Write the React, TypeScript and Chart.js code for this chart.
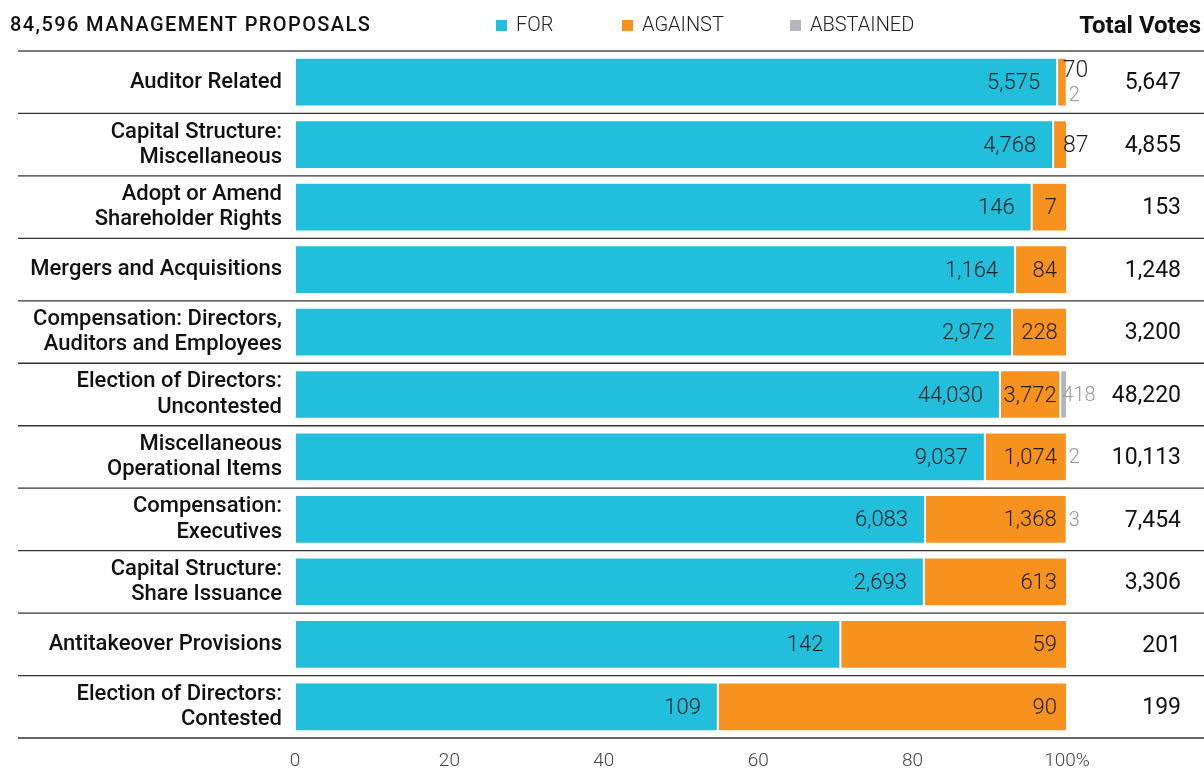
import { useEffect, useRef } from "react";
import { Chart, registerables } from "chart.js";

Chart.register(...registerables);

const categories: string[][] = [
  ["Auditor Related"],
  ["Capital Structure:", "Miscellaneous"],
  ["Adopt or Amend", "Shareholder Rights"],
  ["Mergers and Acquisitions"],
  ["Compensation: Directors,", "Auditors and Employees"],
  ["Election of Directors:", "Uncontested"],
  ["Miscellaneous", "Operational Items"],
  ["Compensation:", "Executives"],
  ["Capital Structure:", "Share Issuance"],
  ["Antitakeover Provisions"],
  ["Election of Directors:", "Contested"],
];
const forVotes = [5575, 4768, 146, 1164, 2972, 44030, 9037, 6083, 2693, 142, 109];
const againstVotes = [70, 87, 7, 84, 228, 3772, 1074, 1368, 613, 59, 90];
const abstainedVotes = [2, 0, 0, 0, 0, 418, 2, 3, 0, 0, 0];
const totalVotes = [5647, 4855, 153, 1248, 3200, 48220, 10113, 7454, 3306, 201, 199];
const xTicks = [0, 20, 40, 60, 80, 100];
const seriesNames = ["FOR", "AGAINST", "ABSTAINED"];
const seriesColors = ["#21BFDB", "#F7921F", "#B4B6BB"];
const titleText = "84,596 MANAGEMENT PROPOSALS";
const totalHeader = "Total Votes";

const FONT = "Roboto, 'Liberation Sans', Arial, sans-serif";
const fmt = (n: number) => n.toLocaleString("en-US");

export default function App() {
  const ref = useRef<HTMLCanvasElement | null>(null);

  useEffect(() => {
    const canvas = ref.current;
    if (!canvas) return;
    const pct = (arr: number[]) => arr.map((v, i) => (v / totalVotes[i]) * 100);
    const seriesValues = [forVotes, againstVotes, abstainedVotes];

    const separators = {
      id: "separators",
      beforeDatasetsDraw(chart: any) {
        const { ctx, chartArea } = chart;
        const y = chart.scales.y;
        const n = categories.length;
        const lines: number[] = [chartArea.top];
        for (let i = 0; i < n - 1; i++) {
          lines.push((y.getPixelForValue(i) + y.getPixelForValue(i + 1)) / 2);
        }
        lines.push(chartArea.bottom);
        ctx.save();
        lines.forEach((ly, idx) => {
          ctx.beginPath();
          if (idx === 0) {
            ctx.strokeStyle = "#7a7a7a";
            ctx.lineWidth = 2;
          } else {
            ctx.strokeStyle = "#333";
            ctx.lineWidth = 1.3;
          }
          ctx.moveTo(18, ly);
          ctx.lineTo(chart.width, ly);
          ctx.stroke();
        });
        ctx.restore();
      },
    };

    const valueLabels = {
      id: "valueLabels",
      afterDatasetsDraw(chart: any) {
        const { ctx } = chart;
        const m0 = chart.getDatasetMeta(0).data;
        const m1 = chart.getDatasetMeta(1).data;
        const m2 = chart.getDatasetMeta(2).data;
        const yScale = chart.scales.y;
        ctx.save();
        ctx.textBaseline = "middle";
        for (let i = 0; i < categories.length; i++) {
          const cy = yScale.getPixelForValue(i) + 1.5;
          // FOR
          ctx.font = `300 22px ${FONT}`;
          ctx.fillStyle = "#1e1e1e";
          ctx.textAlign = "right";
          ctx.fillText(fmt(forVotes[i]), m0[i].x - 17, cy);
          // AGAINST
          const a = m1[i];
          const aText = fmt(againstVotes[i]);
          const w = a.x - a.base;
          const tw = ctx.measureText(aText).width;
          const hasAbst = abstainedVotes[i] > 0;
          let bothOutside = false;
          if (w >= tw + 6) {
            const pad = Math.min(10, (w - tw) / 2);
            ctx.textAlign = "right";
            ctx.fillText(aText, a.x - pad, cy);
          } else {
            bothOutside = hasAbst;
            ctx.font = `300 23px ${FONT}`;
            ctx.textAlign = "left";
            ctx.fillText(aText, a.x - 4, bothOutside ? cy - 12 : cy);
          }
          // ABSTAINED
          if (hasAbst) {
            const b = m2[i];
            ctx.font = `300 20px ${FONT}`;
            ctx.fillStyle = "#9a9a9a";
            ctx.textAlign = "left";
            ctx.fillText(fmt(abstainedVotes[i]), b.base + 2, bothOutside ? cy + 12 : cy);
          }
          // TOTAL
          ctx.font = `400 23px ${FONT}`;
          ctx.fillStyle = "#111";
          ctx.textAlign = "right";
          ctx.fillText(fmt(totalVotes[i]), 1181, cy);
        }
        ctx.restore();
      },
    };

    const header = {
      id: "header",
      afterDraw(chart: any) {
        const { ctx } = chart;
        ctx.save();
        ctx.textBaseline = "middle";
        ctx.fillStyle = "#111";
        ctx.textAlign = "left";
        ctx.font = `500 20px ${FONT}`;
        try { (ctx as any).letterSpacing = "1.4px"; } catch (e) {}
        ctx.fillText(titleText, 10, 26);
        try { (ctx as any).letterSpacing = "0px"; } catch (e) {}
        const legendX = [496, 622, 790];
        seriesNames.forEach((name, k) => {
          ctx.fillStyle = seriesColors[k];
          ctx.fillRect(legendX[k], 20, 11, 11);
          ctx.fillStyle = "#222";
          ctx.font = `300 20px ${FONT}`;
          ctx.fillText(name, legendX[k] + 20, 26);
        });
        ctx.font = `700 24px ${FONT}`;
        ctx.fillStyle = "#111";
        ctx.textAlign = "right";
        ctx.fillText(totalHeader, 1201, 27);
        ctx.restore();
      },
    };

    const chart = new Chart(canvas, {
      type: "bar",
      data: {
        labels: categories,
        datasets: seriesNames.map((name, k) => ({
          label: name,
          data: pct(seriesValues[k]),
          backgroundColor: seriesColors[k],
          borderColor: "#ffffff",
          borderWidth: 1,
          borderSkipped: false,
          barPercentage: 0.78,
          categoryPercentage: 1,
        })),
      },
      options: {
        indexAxis: "y",
        responsive: false,
        animation: false,
        layout: { padding: { top: 51, right: 137, left: 0, bottom: 0 } },
        plugins: {
          legend: { display: false },
          tooltip: { enabled: false },
        },
        scales: {
          x: {
            stacked: true,
            min: 0,
            max: 100,
            afterBuildTicks: (s: any) => {
              s.ticks = xTicks.map((v) => ({ value: v }));
            },
            afterFit: (s: any) => {
              s.height = 31;
            },
            grid: { display: false, drawTicks: false },
            border: { display: false },
            ticks: {
              padding: 12,
              color: "#444",
              font: { family: FONT, size: 19, weight: "300" as any },
              callback: (v: any) => (Number(v) === 100 ? "100%" : String(v)),
            },
          },
          y: {
            stacked: true,
            afterFit: (s: any) => {
              s.width = 295;
            },
            grid: { display: false, drawTicks: false },
            border: { display: false },
            ticks: {
              padding: 13,
              color: "#111",
              font: { family: FONT, size: 22, weight: "500" as any, lineHeight: 1.15 },
            },
          },
        },
      },
      plugins: [separators, valueLabels, header],
    });
    return () => chart.destroy();
  }, []);

  return (
    <div style={{ position: "fixed", left: 0, top: 0, width: 1204, height: 769, background: "#fff" }}>
      <canvas ref={ref} width={1204} height={769} style={{ display: "block" }} />
    </div>
  );
}
